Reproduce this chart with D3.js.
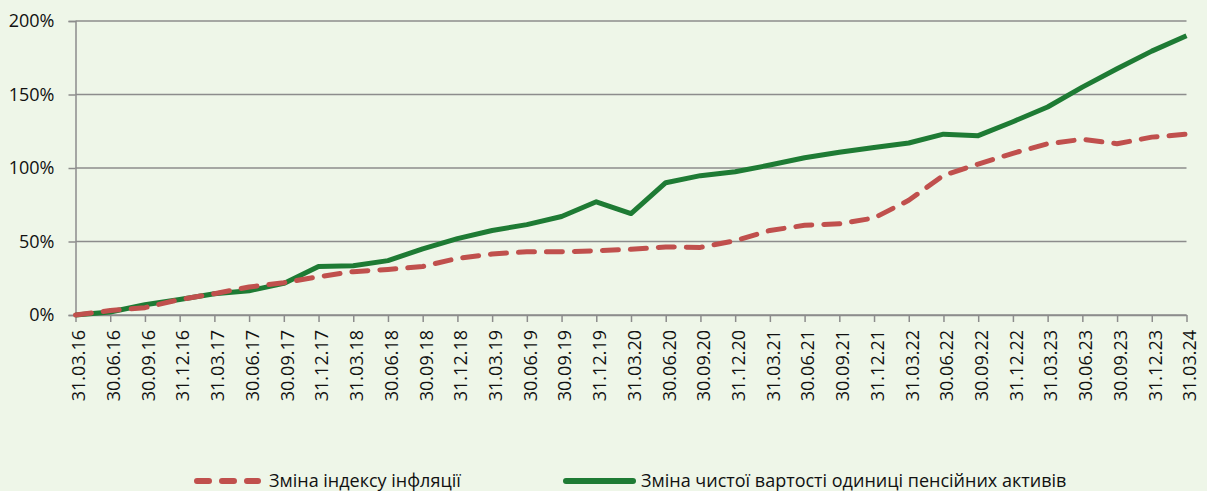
<!DOCTYPE html>
<html>
<head>
<meta charset="utf-8">
<script src="https://cdn.jsdelivr.net/npm/d3@7"></script>
<style>
  html, body { margin: 0; padding: 0; background: #EEF6E8; }
  svg { display: block; }
  text { font-family: "Open Sans", sans-serif; fill: #111; }
</style>
</head>
<body>
<svg id="chart" width="1207" height="491"></svg>
<script>
const dates = ["31.03.16","30.06.16","30.09.16","31.12.16","31.03.17","30.06.17","30.09.17","31.12.17",
  "31.03.18","30.06.18","30.09.18","31.12.18","31.03.19","30.06.19","30.09.19","31.12.19",
  "31.03.20","30.06.20","30.09.20","31.12.20","31.03.21","30.06.21","30.09.21","31.12.21",
  "31.03.22","30.06.22","30.09.22","31.12.22","31.03.23","30.06.23","30.09.23","31.12.23","31.03.24"];
const inflation = [0, 3, 5, 10.5, 14.5, 19, 22, 26, 29.5, 31, 33, 38.5, 41.5, 43, 43, 43.7,
  44.7, 46.3, 46, 50.5, 57.5, 61, 62, 66, 78, 95, 102.7, 110, 116.5, 119.5, 116.5, 121, 123];
const navChange = [0, 2, 7, 10.5, 14.5, 16.5, 21.5, 33, 33.5, 37, 45, 52, 57.5, 61.5, 67, 77,
  69, 90, 94.8, 97.5, 102, 107, 110.7, 114, 117, 123, 122, 131.5, 141.5, 155, 167.5, 179.5, 190];
const yTicks = [0, 50, 100, 150, 200];
const seriesNames = ["Зміна індексу інфляції", "Зміна чистої вартості одиниці пенсійних активів"];

const svg = d3.select("#chart");
const mLeft = 75.5, mRight = 1186.5, mTop = 21, mBottom = 315;

const x = d3.scalePoint().domain(dates).range([mLeft, mRight]);
const y = d3.scaleLinear().domain([0, 200]).range([mBottom, mTop]);

// gridlines
svg.append("g")
  .selectAll("line").data(yTicks).join("line")
  .attr("x1", mLeft).attr("x2", mRight)
  .attr("y1", d => y(d)).attr("y2", d => y(d))
  .attr("stroke", "#8C8C8C").attr("stroke-width", 1.5);

// y axis
const yAxis = svg.append("g").attr("transform", `translate(${mLeft},0)`)
  .call(d3.axisLeft(y).tickValues(yTicks).tickFormat(d => d + "%").tickSize(7).tickPadding(14));
yAxis.select(".domain").attr("stroke", "#8C8C8C").attr("stroke-width", 1.5);
yAxis.selectAll(".tick line").attr("stroke", "#8C8C8C").attr("stroke-width", 1.5);
yAxis.selectAll("text").attr("font-size", 18).attr("font-family", "Open Sans").attr("fill", "#111");

// x axis
const xAxis = svg.append("g").attr("transform", `translate(0,${mBottom})`)
  .call(d3.axisBottom(x).tickSize(7).tickSizeOuter(0));
xAxis.select(".domain").attr("stroke", "#8C8C8C").attr("stroke-width", 1.5);
xAxis.selectAll(".tick line").attr("stroke", "#8C8C8C").attr("stroke-width", 1.5);
xAxis.selectAll("text")
  .attr("font-size", 18).attr("font-family", "Open Sans").attr("fill", "#111")
  .attr("transform", "rotate(-90)")
  .attr("text-anchor", "end")
  .attr("x", -15).attr("y", 3).attr("dy", "0.35em");

const line = d3.line().x((d, i) => x(dates[i])).y(d => y(d));

svg.append("path").datum(navChange)
  .attr("d", line).attr("fill", "none")
  .attr("stroke", "#1E7B34").attr("stroke-width", 5).attr("stroke-linejoin", "round");

svg.append("path").datum(inflation)
  .attr("d", line).attr("fill", "none")
  .attr("stroke", "#C0504D").attr("stroke-width", 5)
  .attr("stroke-dasharray", "16,12").attr("stroke-linecap", "round").attr("stroke-linejoin", "round");

// legend
const lg = svg.append("g");
lg.append("line").attr("x1", 197).attr("x2", 258).attr("y1", 481).attr("y2", 481)
  .attr("stroke", "#C0504D").attr("stroke-width", 6).attr("stroke-linecap", "round")
  .attr("stroke-dasharray", "12,13");
lg.append("text").attr("x", 269).attr("y", 481).attr("dy", "0.35em")
  .attr("font-size", 18).text(seriesNames[0]);
lg.append("line").attr("x1", 566).attr("x2", 633).attr("y1", 481).attr("y2", 481)
  .attr("stroke", "#1E7B34").attr("stroke-width", 6).attr("stroke-linecap", "round");
lg.append("text").attr("x", 641).attr("y", 481).attr("dy", "0.35em")
  .attr("font-size", 18).text(seriesNames[1]);
</script>
</body>
</html>
